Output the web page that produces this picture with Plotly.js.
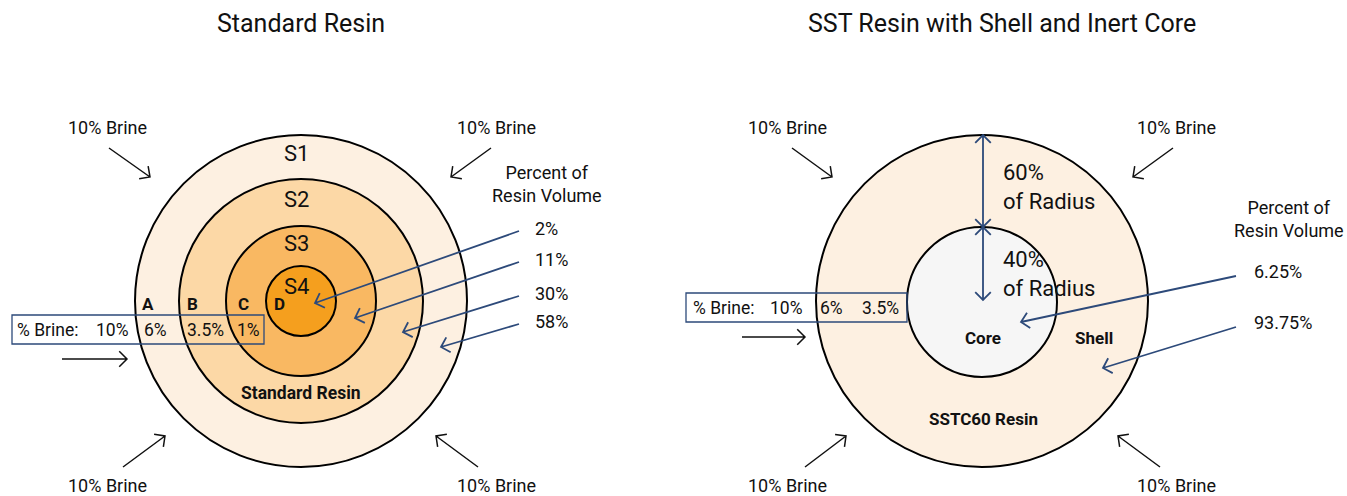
<!DOCTYPE html>
<html><head><meta charset="utf-8">
<script src="https://cdn.plot.ly/plotly-3.0.1.min.js"></script>
<style>html,body{margin:0;padding:0;background:#fff;}#chart{width:1347px;height:496px;}</style>
</head><body><div id="chart"></div>
<script>
// ---------------- data ----------------
const panelTitles = ['Standard Resin', 'SST Resin with Shell and Inert Core'];
const externalBrinePct = 10;
const stdShells = ['S1', 'S2', 'S3', 'S4'];
const stdZones = ['A', 'B', 'C', 'D'];
const stdBrinePct = [10, 6, 3.5, 1];
const stdVolumePct = [2, 11, 30, 58];     // listed top to bottom: S4, S3, S2, S1
const sstBrinePct = [10, 6, 3.5];
const sstVolumePct = [6.25, 93.75];       // core, shell
const sstRadiusPct = [60, 40];            // shell, core
const sstParts = ['Core', 'Shell'];
const resinNames = ['Standard Resin', 'SSTC60 Resin'];
const volumeHeader = 'Percent of<br>Resin Volume';

// ---------------- drawing ----------------
const FONT = 'Roboto, "Open Sans", sans-serif';
const INK = '#111111';
const NAVY = '#2d4a7a';
const shapes = [];
const ann = [];

function txt(x, y, text, size, o) {
  o = o || {};
  ann.push({x: x, y: y, xref: 'x', yref: 'y', text: text, showarrow: false,
    xanchor: o.xa || 'center', yanchor: 'middle', align: o.align || 'center',
    font: {family: FONT, size: size, color: o.color || INK, weight: o.bold ? 700 : 400}});
}
function circle(cx, cy, r, fill) {
  shapes.push({type: 'circle', xref: 'x', yref: 'y', x0: cx - r, x1: cx + r, y0: cy - r, y1: cy + r,
    fillcolor: fill, line: {color: '#000000', width: 2}, layer: 'above'});
}
function head(x0, y0, x1, y1, L) {
  const ang = Math.atan2(y1 - y0, x1 - x0), a = Math.PI / 4;
  const h1 = [x1 - L * Math.cos(ang - a), y1 - L * Math.sin(ang - a)];
  const h2 = [x1 - L * Math.cos(ang + a), y1 - L * Math.sin(ang + a)];
  return `M${h1[0]},${h1[1]}L${x1},${y1}L${h2[0]},${h2[1]}`;
}
function arrow(x0, y0, x1, y1, color, w, both) {
  let p = `M${x0},${y0}L${x1},${y1}` + head(x0, y0, x1, y1, 11);
  if (both) p += head(x1, y1, x0, y0, 11);
  shapes.push({type: 'path', xref: 'x', yref: 'y', path: p, line: {color: color, width: w}, layer: 'above'});
}
function rect(x0, y0, x1, y1) {
  shapes.push({type: 'rect', xref: 'x', yref: 'y', x0: x0, x1: x1, y0: y0, y1: y1,
    fillcolor: 'rgba(0,0,0,0)', line: {color: NAVY, width: 1.3}, layer: 'above'});
}
const pct = v => v + '%';
const brineTxt = pct(externalBrinePct) + ' Brine';

// ===== Left panel: Standard Resin =====
const L = {cx: 301, cy: 301};
const stdRadii = [166, 122, 75, 35];
const stdFills = ['#fdf0e1', '#fcd8a6', '#f9b862', '#f59f1e'];
stdRadii.forEach((r, i) => circle(L.cx, L.cy, r, stdFills[i]));
txt(301, 23, panelTitles[0], 25);

// external brine labels and arrows
txt(107, 127, brineTxt, 18); arrow(109, 148, 150, 177, INK, 1.5);
txt(496, 127, brineTxt, 18); arrow(491, 148, 451, 177, INK, 1.5);
txt(107, 485, brineTxt, 18); arrow(123, 467, 165, 436, INK, 1.5);
txt(496, 485, brineTxt, 18); arrow(478, 467, 436, 436, INK, 1.5);
arrow(62, 359, 127, 359, INK, 1.5);

// shell labels
const sY = [153, 199, 243, 286];
stdShells.forEach((s, i) => txt(296, sY[i], s, 22));
const zX = [148, 192, 243, 279];
stdZones.forEach((z, i) => txt(zX[i], 304, z, 17, {bold: true}));

// brine box
rect(12, 315, 264, 344);
txt(15, 330, '% Brine:', 17.5, {xa: 'left'});
const bX = [94, 142, 185, 235];
stdBrinePct.forEach((v, i) => txt(bX[i], 330, pct(v), 17.5, {xa: 'left'}));

// volume share
txt(547, 184, volumeHeader, 18);
const vY = [228, 259, 293, 321];
stdVolumePct.forEach((v, i) => txt(533, vY[i], pct(v), 18, {xa: 'left'}));
const vEnd = [[315, 303], [355, 318], [403, 332], [441, 347]];
vEnd.forEach((e, i) => arrow(519, vY[i] + 3, e[0], e[1], NAVY, 1.8));
txt(301, 393, resinNames[0], 17.5, {bold: true});

// ===== Right panel: SST Resin =====
const R = {cx: 982, cy: 301};
circle(R.cx, R.cy, 166, '#fdf0e1');
circle(R.cx, 302, 75, '#f6f6f6');
txt(1002, 23, panelTitles[1], 25);

txt(787, 127, brineTxt, 18); arrow(792, 148, 832, 177, INK, 1.5);
txt(1176, 127, brineTxt, 18); arrow(1173, 148, 1133, 177, INK, 1.5);
txt(787, 485, brineTxt, 18); arrow(805, 467, 846, 436, INK, 1.5);
txt(1176, 485, brineTxt, 18); arrow(1160, 467, 1118, 436, INK, 1.5);
arrow(742, 337, 805, 337, INK, 1.5);

// radius arrows
arrow(983, 135, 983, 227, NAVY, 1.8, true);
arrow(983, 227, 983, 300, NAVY, 1.8, true);
txt(1001, 187, pct(sstRadiusPct[0]) + '<br>of Radius', 22, {xa: 'left', align: 'left'});
txt(1001, 274, pct(sstRadiusPct[1]) + '<br>of Radius', 22, {xa: 'left', align: 'left'});

// brine box
rect(686, 293, 907, 322);
txt(691, 308, '% Brine:', 17.5, {xa: 'left'});
const rbX = [768, 818, 860];
sstBrinePct.forEach((v, i) => txt(rbX[i], 308, pct(v), 17.5, {xa: 'left'}));

txt(983, 338, sstParts[0], 17, {bold: true});
txt(1094, 338, sstParts[1], 17, {bold: true});
txt(983, 419, resinNames[1], 17, {bold: true});

txt(1289, 219, volumeHeader, 18);
const rvY = [271, 322];
sstVolumePct.forEach((v, i) => txt(1252, rvY[i], pct(v), 18, {xa: 'left'}));
arrow(1236, 276, 1021, 322, NAVY, 1.8);
arrow(1236, 327, 1103, 368, NAVY, 1.8);

const layout = {
  width: 1347, height: 496, margin: {l: 0, r: 0, t: 0, b: 0},
  paper_bgcolor: '#ffffff', plot_bgcolor: '#ffffff', showlegend: false,
  xaxis: {range: [0, 1347], visible: false, fixedrange: true},
  yaxis: {range: [496, 0], visible: false, fixedrange: true},
  shapes: shapes, annotations: ann
};
Plotly.newPlot('chart', [{x: [], y: [], type: 'scatter', mode: 'markers', hoverinfo: 'skip'}], layout,
  {displayModeBar: false, staticPlot: true});
</script></body></html>
